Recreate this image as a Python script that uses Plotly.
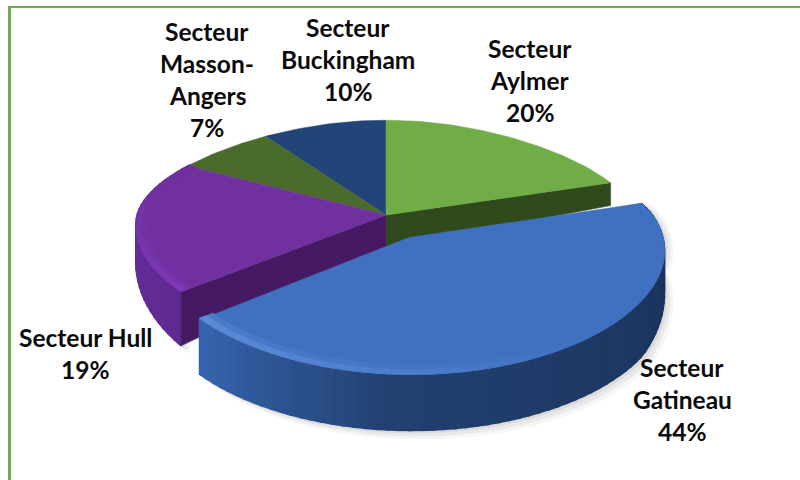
import numpy as np
import plotly.graph_objects as go

categories = ["Secteur Aylmer", "Secteur Gatineau", "Secteur Hull", "Secteur Masson-Angers", "Secteur Buckingham"]
values = [20, 44, 19, 7, 10]
label_lines = [["Secteur", "Aylmer", "20%"],
               ["Secteur", "Gatineau", "44%"],
               ["Secteur Hull", "19%"],
               ["Secteur", "Masson-", "Angers", "7%"],
               ["Secteur", "Buckingham", "10%"]]

# layout / style (pixels of the 800x480 frame)
label_centres = [(530, 48), (682, 367), (85, 337), (207, 31), (348, 27)]
line_gap = 32.3
CX, CY, RX, KY, PERSP = 386, 215, 249, 109, 0.15
EXPLODE = (0.09, -0.20)

top_col = ["#70AD47", "#4070C0", "#7030A0", "#4A6B2B", "#234478"]
cut_col = ["#304A1C", "#1E3560", "#451A63", "#2E4419", "#162B50"]

edges = np.cumsum([0] + values) / sum(values) * 2 * np.pi


def project(X, Y, down=False):
    X, Y = np.asarray(X, float), np.asarray(Y, float)
    p = 1 + PERSP * Y
    px = np.where(Y > 0, 1 + 0.12 * Y + 0.18 * Y * Y, 1 + 0.10 * Y)
    sx = CX + RX * X / px
    sy = CY - KY * Y / p
    if down:
        sy = sy + np.minimum(56, 33 - 33 * Y)
    return sx, sy


def arc(a, b, r=1.0, off=(0, 0), step=0.02):
    n = max(2, int(abs(b - a) / step) + 1)
    t = np.linspace(a, b, n)
    return off[0] + r * np.sin(t), off[1] + r * np.cos(t)


fig = go.Figure()


def poly(x, y, color, lw=1.0):
    fig.add_trace(go.Scatter(x=list(x), y=list(y), mode="lines", fill="toself", fillcolor=color,
                             line=dict(color=color, width=lw), hoverinfo="skip", showlegend=False))


def mix(c1, c2, f):
    f = float(np.clip(f, 0, 1))
    a = [int(c1[i:i + 2], 16) for i in (1, 3, 5)]
    b = [int(c2[i:i + 2], 16) for i in (1, 3, 5)]
    return "#%02x%02x%02x" % tuple(round(a[i] + (b[i] - a[i]) * f) for i in range(3))


def top(i, off=(0, 0), r=1.0):
    X, Y = arc(edges[i], edges[i + 1], r, off)
    X = np.r_[off[0], X, off[0]]
    Y = np.r_[off[1], Y, off[1]]
    sx, sy = project(X, Y)
    poly(sx, sy, top_col[i], lw=0.5)


def shadow(a, b, off=(0, 0)):
    X, Y = arc(a, b, 1.0, off)
    sx, sy = project(X, Y, down=True)
    sx0, sy0 = project(X, Y)
    for g, al in ((9, 0.035), (6, 0.05), (3, 0.06)):
        fig.add_trace(go.Scatter(x=list(np.r_[sx0 + g, (sx + g)[::-1]]), y=list(np.r_[sy0, (sy + g)[::-1]]),
                                 mode="lines", fill="toself", fillcolor=f"rgba(0,0,0,{al})",
                                 line=dict(width=0), hoverinfo="skip", showlegend=False))


def rim(a, b, off, colfn, step=0.04):
    n = max(2, int((b - a) / step))
    ts = np.linspace(a, b, n + 1)
    for k in range(n):
        X, Y = arc(ts[k], ts[k + 1] + 0.01, 1.0, off, step=0.01)
        sx, sy = project(X, Y)
        bx, by = project(X, Y, down=True)
        poly(np.r_[sx, bx[::-1]], np.r_[sy, by[::-1]], colfn((k + 0.5) / n), lw=1.5)


def bevel(a, b, off, colfn, width=0.05, step=0.04):
    n = max(2, int((b - a) / step))
    ts = np.linspace(a, b, n + 1)
    for k in range(n):
        X1, Y1 = arc(ts[k], ts[k + 1] + 0.01, 1.0, off, step=0.01)
        X2, Y2 = arc(ts[k], ts[k + 1] + 0.01, 1.0 - width, off, step=0.01)
        sx1, sy1 = project(X1, Y1)
        sx2, sy2 = project(X2, Y2)
        poly(np.r_[sx1, sx2[::-1]], np.r_[sy1, sy2[::-1]], colfn((k + 0.5) / n), lw=0.5)


def cut(angle, i):
    X, Y = np.sin(angle), np.cos(angle)
    ax, ay = project(0, 0)
    bx, by = project(0, 0, down=True)
    cx, cy = project(X, Y)
    dx, dy = project(X, Y, down=True)
    poly([ax, cx, dx, bx], [ay, cy, dy, by], cut_col[i], lw=0.5)


# back slices
top(4)
top(3)
shadow(edges[2], edges[3] - 0.6)
# cut faces and rims behind the pulled slice
cut(edges[1], 0)
rim(edges[2], edges[3], (0, 0), lambda f: mix("#5F2A90", "#6C2FA3", f))
cut(edges[2], 2)
top(0)
top(2)
bevel(edges[2], edges[3], (0, 0), lambda f: mix("#7434A8", "#7030A0", f * 1.2), width=0.05)
bevel(edges[2], edges[3], (0, 0), lambda f: mix("#7C3AB6", "#7030A0", f * 1.3), width=0.025)

# pulled slice
shadow(edges[1], edges[2], EXPLODE)
rim(edges[1], edges[2], EXPLODE,
    lambda f: mix("#1A2E58", "#22406F", f * 1.4) if f < 0.7 else mix("#22406F", "#3565B0", (f - 0.7) / 0.3))
top(1, EXPLODE)
bevel(edges[1], edges[2], EXPLODE,
      lambda f: "#4070C0" if f < 0.45 else mix("#4070C0", "#4A7BCA", (f - 0.45) / 0.55), width=0.06)
bevel(edges[1], edges[2], EXPLODE,
      lambda f: "#4070C0" if f < 0.45 else mix("#4070C0", "#5C8CD6", (f - 0.45) / 0.55), width=0.03)

# frame
fig.add_shape(type="line", x0=9.5, x1=9.5, y0=7, y1=480, line=dict(color="#70AD47", width=3), layer="above")
fig.add_shape(type="line", x0=8, x1=800, y0=7, y1=7, line=dict(color="#70AD47", width=2), layer="above")

# labels
for lines, (lx, ly) in zip(label_lines, label_centres):
    for j, txt in enumerate(lines):
        fig.add_annotation(x=lx, y=ly + j * line_gap, text=f"<b>{txt}</b>", showarrow=False,
                           xanchor="center", yanchor="middle",
                           font=dict(family="Lato, Open Sans, sans-serif", size=24.5, color="#0a0a0a"))

fig.update_layout(width=800, height=480, margin=dict(l=0, r=0, t=0, b=0),
                  paper_bgcolor="white", plot_bgcolor="white", showlegend=False,
                  xaxis=dict(range=[0, 800], visible=False, fixedrange=True),
                  yaxis=dict(range=[480, 0], visible=False, fixedrange=True))
# drop the page's default body margin so the 800x480 figure fills the window
fig.write_html("out.html", config=dict(displayModeBar=False),
               post_script="document.body.style.margin='0';document.body.style.overflow='hidden';")
